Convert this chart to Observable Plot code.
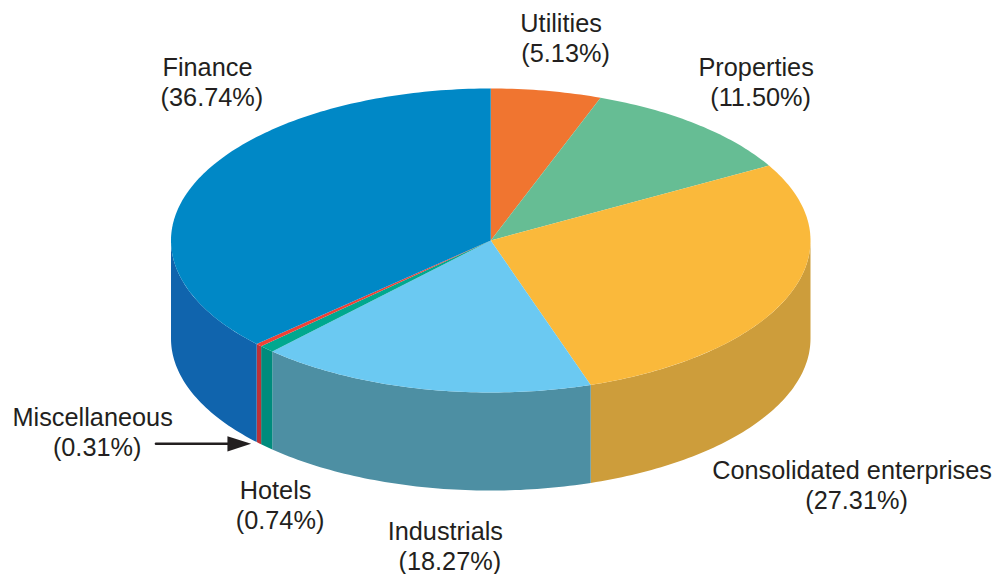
<!DOCTYPE html>
<html>
<head>
<meta charset="utf-8">
<script src="https://cdn.jsdelivr.net/npm/d3@7"></script>
<script src="https://cdn.jsdelivr.net/npm/@observablehq/plot@0.6"></script>
<style>
  html, body { margin: 0; padding: 0; background: #fff; }
</style>
</head>
<body>
<div id="chart"></div>
<script>
// Categories, clockwise from twelve o'clock
const sectors = ["Utilities", "Properties", "Consolidated enterprises", "Industrials", "Hotels", "Miscellaneous", "Finance"];
// Percentages as printed on the labels
const printedShares = [5.13, 11.50, 27.31, 18.27, 0.74, 0.31, 36.74];
// Slice sizes as actually drawn in the picture (percent of the full turn)
const drawnShares = [5.58, 11.22, 28.14, 17.03, 0.78, 0.32, 36.93];
// Colours
const topColors = ["#f07530", "#66bd94", "#fab93b", "#6bc9f2", "#00a88f", "#ef4136", "#0088c6"];
const sideColors = ["#f07530", "#66bd94", "#cd9d3b", "#4d8fa3", "#008b7c", "#bb3238", "#1064ad"];

// Pie geometry, in unit-disc coordinates seen from above at a tilt
const discDepth = 0.645;
const rim = (deg) => ({x: Math.sin(deg * Math.PI / 180), y: Math.cos(deg * Math.PI / 180)});

let turn = 0;
const slices = sectors.map((name, i) => {
  const start = turn;
  turn += drawnShares[i] * 3.6;
  return {name, i, start, end: turn};
});

function arc(a, b) {
  const pts = [];
  const n = Math.max(2, Math.ceil(Math.abs(b - a)));
  for (let k = 0; k <= n; ++k) pts.push(rim(a + (b - a) * k / n));
  return pts;
}

const topPts = slices.flatMap((s) => [{x: 0, y: 0}, ...arc(s.start, s.end)]
  .map((p) => ({...p, id: s.name, color: topColors[s.i]})));

const sidePts = slices.flatMap((s) => {
  const a = Math.max(s.start, 90), b = Math.min(s.end, 270);
  if (a >= b) return [];
  const upper = arc(a, b);
  const lower = [...upper].reverse().map((p) => ({x: p.x, y: p.y - discDepth}));
  return [...upper, ...lower].map((p) => ({...p, id: s.name, color: sideColors[s.i]}));
});

// Label anchors in the same disc coordinates
const labelX = [0.220, 0.830, 1.130, -0.142, -0.673, -1.245, -0.886];
const labelY = [1.428, 1.138, -1.513, -1.914, -1.645, -1.164, 1.138];
const labels = sectors.map((name, i) => ({
  name, pct: `(${printedShares[i].toFixed(2)}%)`, x: labelX[i], y: labelY[i]
}));

const ink = "#231f20";
const font = {fontSize: 25.3, fontFamily: "'Liberation Sans', Arial, sans-serif", fill: ink};

const chart = Plot.plot({
  width: 996,
  height: 574,
  margin: 0,
  x: {domain: [-1, 1], range: [170.5, 810], axis: null},
  y: {domain: [-1, 1], range: [392, 88], axis: null},
  color: {type: "identity"},
  style: {background: "#fff"},
  marks: [
    Plot.line(sidePts, {x: "x", y: "y", z: "id", fill: "color", stroke: "none", curve: "linear"}),
    Plot.line(topPts, {x: "x", y: "y", z: "id", fill: "color", stroke: "none", curve: "linear"}),
    Plot.text(labels, {x: "x", y: "y", text: "name", ...font}),
    Plot.text(labels, {x: "x", y: "y", text: "pct", dx: 4.5, dy: 30, ...font}),
    // Pointer from the Miscellaneous label to its sliver
    Plot.line([{x: -1.047, y: -1.3375}, {x: -0.82, y: -1.3375}], {x: "x", y: "y", stroke: ink, strokeWidth: 2.6}),
    Plot.line([{x: -0.8234, y: -1.2875}, {x: -0.7494, y: -1.3375}, {x: -0.8234, y: -1.3875}],
      {x: "x", y: "y", fill: ink, stroke: "none", curve: "linear"})
  ]
});
document.getElementById("chart").appendChild(chart);
</script>
</body>
</html>
